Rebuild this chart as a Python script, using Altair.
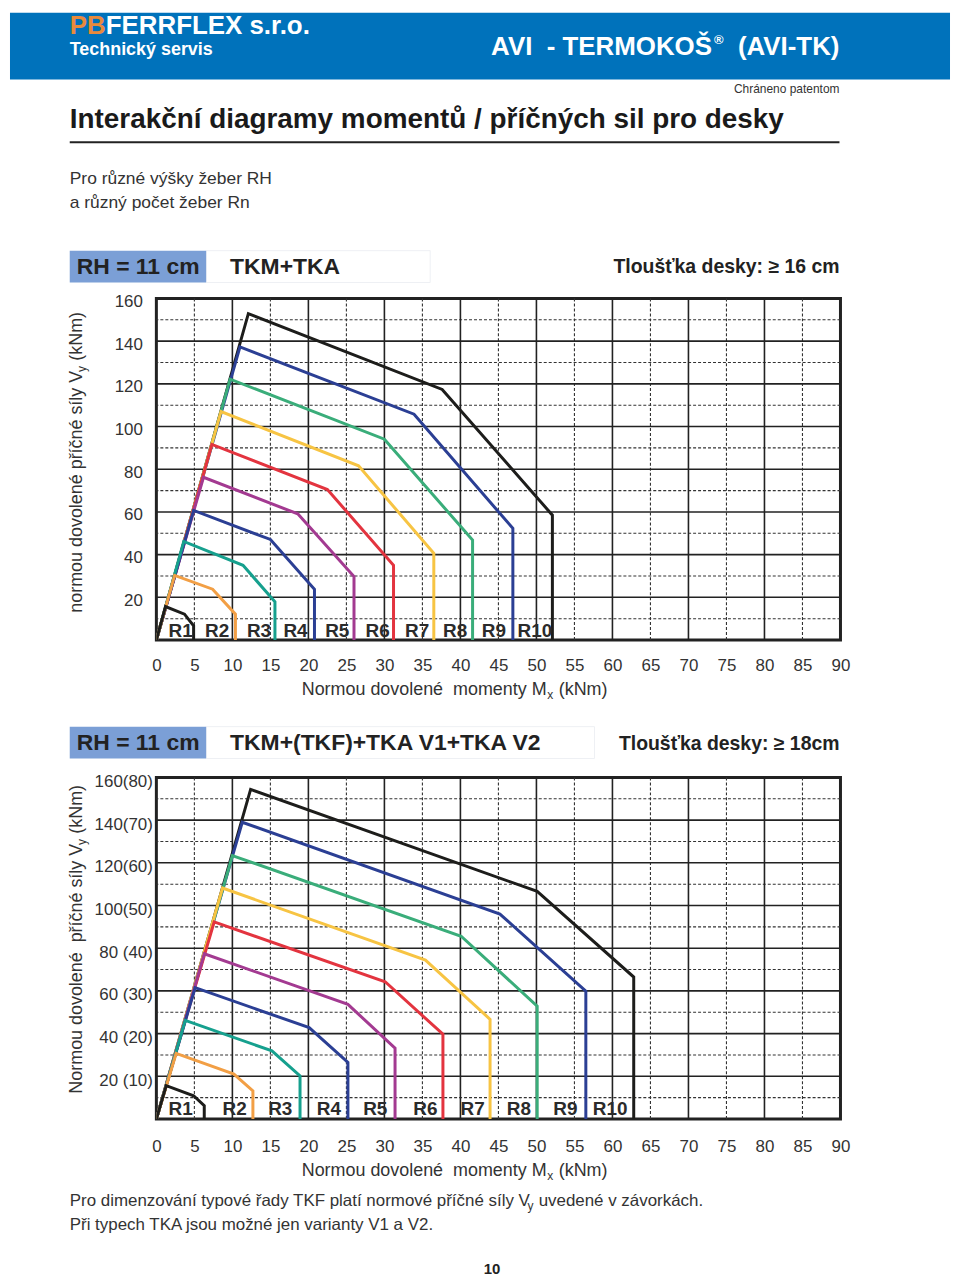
import unicodedata
import altair as alt
import pandas as pd

FONT = "Liberation Sans"

SERIES = ["R1", "R2", "R3", "R4", "R5", "R6", "R7", "R8", "R9", "R10"]
COLORS = ["#1d1d1b", "#f29f45", "#16a08e", "#2b3f94", "#a33a91",
          "#e3343f", "#f7c443", "#3aad7a", "#2b3f94", "#1d1d1b"]

X_TICKS = list(range(0, 95, 5))
X_MAJOR = [10, 20, 30, 40, 50, 60, 70, 80]
X_MINOR = [5, 15, 25, 35, 45, 55, 65, 75, 85]
Y_TICKS = [20, 40, 60, 80, 100, 120, 140, 160]
Y_MAJOR = [20, 40, 60, 80, 100, 120, 140]
Y_MINOR = [10, 30, 50, 70, 90, 110, 130, 150]
C1_YLABELS = ["20", "40", "60", "80", "100", "120", "140", "160"]
C2_YLABELS = ["20 (10)", "40 (20)", "60 (30)", "80 (40)", "100(50)", "120(60)", "140(70)", "160(80)"]

# Chart 1 (TKM+TKA): vertices Mx (kNm), Vy (kN) per ribs count R1..R10
C1_MX = [
    [0, 1.2, 3.7, 4.9, 4.9],
    [0, 2.4, 7.4, 10.4, 10.4],
    [0, 3.6, 11.4, 15.6, 15.6],
    [0, 4.9, 15.0, 20.8, 20.8],
    [0, 6.2, 18.6, 26.0, 26.0],
    [0, 7.3, 22.5, 31.2, 31.2],
    [0, 8.5, 26.6, 36.5, 36.5],
    [0, 9.7, 30.0, 41.6, 41.6],
    [0, 11.0, 33.9, 46.9, 46.9],
    [0, 12.1, 37.6, 52.1, 52.1],
]
C1_VY = [
    [0, 15.7, 12.1, 6.7, 0],
    [0, 30.3, 23.8, 12.1, 0],
    [0, 46.2, 35.0, 17.9, 0],
    [0, 60.7, 47.1, 23.8, 0],
    [0, 76.2, 59.1, 29.7, 0],
    [0, 91.6, 70.5, 35.0, 0],
    [0, 107.0, 81.6, 40.6, 0],
    [0, 122.2, 94.1, 46.8, 0],
    [0, 137.3, 105.8, 52.3, 0],
    [0, 152.9, 117.4, 58.5, 0],
]
C1_LABEL_X = [3.2, 8.0, 13.5, 18.3, 23.8, 29.1, 34.3, 39.3, 44.4, 49.8]
C1_LABEL_Y = 4.1

# Chart 2 (TKM+(TKF)+TKA V1+TKA V2)
C2_MX = [
    [0, 1.3, 4.9, 6.3, 6.3],
    [0, 2.6, 10.2, 12.7, 12.7],
    [0, 3.8, 15.2, 18.9, 18.9],
    [0, 5.1, 20.1, 25.2, 25.2],
    [0, 6.3, 25.2, 31.4, 31.4],
    [0, 7.6, 30.1, 37.7, 37.7],
    [0, 8.7, 35.4, 43.9, 43.9],
    [0, 10.0, 40.1, 50.1, 50.1],
    [0, 11.3, 45.2, 56.5, 56.5],
    [0, 12.4, 50.1, 62.8, 62.8],
]
C2_VY = [
    [0, 15.6, 10.9, 6.2, 0],
    [0, 30.7, 21.0, 13.2, 0],
    [0, 46.2, 31.9, 20.2, 0],
    [0, 61.5, 42.8, 26.5, 0],
    [0, 77.4, 53.7, 33.2, 0],
    [0, 92.3, 64.3, 39.7, 0],
    [0, 108.2, 74.4, 46.7, 0],
    [0, 123.4, 85.6, 52.9, 0],
    [0, 139.0, 96.0, 59.9, 0],
    [0, 154.4, 106.6, 66.5, 0],
]
C2_LABEL_X = [3.2, 10.3, 16.3, 22.7, 28.8, 35.4, 41.6, 47.7, 53.8, 59.7]
C2_LABEL_Y = 4.7

W, H = 687, 343
O1 = (155, 295)
O2 = (155, 776)
INK = "#2b2b2b"
NB = "\u00a0"

# Arial / Liberation Sans regular advance widths (1/1000 em)
AW = {" ": 278, NB: 278, "a": 556, "b": 556, "c": 500, "d": 556, "e": 556, "f": 278,
      "g": 556, "h": 556, "i": 222, "j": 222, "k": 500, "l": 222, "m": 833, "n": 556,
      "o": 556, "p": 556, "q": 556, "r": 333, "s": 500, "t": 278, "u": 556, "v": 500,
      "w": 722, "x": 500, "y": 500, "z": 500, "A": 667, "B": 667, "C": 722, "D": 722,
      "E": 667, "F": 611, "G": 778, "H": 722, "I": 278, "J": 500, "K": 667, "L": 556,
      "M": 833, "N": 722, "O": 778, "P": 667, "Q": 778, "R": 722, "S": 667, "T": 611,
      "U": 722, "V": 667, "W": 944, "X": 667, "Y": 667, "Z": 611, "(": 333, ")": 333,
      ".": 278, ",": 278, "-": 333, "/": 278}


def tw(s, size):
    tot = 0
    for ch in s:
        base = unicodedata.normalize("NFD", ch)[0] if ch != NB else ch
        tot += AW.get(base, 556)
    return tot * size / 1000.0


def one(s):
    return pd.DataFrame({"t": [s]})


def txt(s, px, py, o, size=17, bold=False, color=INK, align="left",
        baseline="middle", angle=0):
    kw = dict(font=FONT, fontSize=size, fontWeight="bold" if bold else "normal",
              color=color, align=align, baseline=baseline)
    if angle:
        kw["angle"] = angle
    return alt.Chart(one(s)).mark_text(**kw).encode(
        x=alt.value(px - o[0]), y=alt.value(py - o[1]), text="t:N")


def box(x1, y1, x2, y2, o, fill, stroke=None, sw=1):
    kw = dict(fill=fill)
    if stroke:
        kw.update(stroke=stroke, strokeWidth=sw)
    return alt.Chart(one("")).mark_rect(**kw).encode(
        x=alt.value(x1 - o[0]), x2=alt.value(x2 - o[0]),
        y=alt.value(y1 - o[1]), y2=alt.value(y2 - o[1]))


def hline(x1, x2, y, o, color=INK, sw=2):
    return alt.Chart(one("")).mark_rule(color=color, strokeWidth=sw).encode(
        x=alt.value(x1 - o[0]), x2=alt.value(x2 - o[0]), y=alt.value(y - o[1]))


def split_lead(c):
    stripped = c.lstrip(" ")
    return stripped, len(c) - len(stripped)


def sub_h(a, s, c, sx, cy, o, size=18, ssize=12, color="#333"):
    wa = tw(a, size)
    ws = tw(s, ssize)
    c2, nlead = split_lead(c)
    gap = nlead * tw(" ", size)
    return [
        txt(a, sx, cy, o, size=size, color=color),
        txt(s, sx + wa + 0.5, cy + 5, o, size=ssize, color=color),
        txt(c2, sx + wa + ws + 1 + gap, cy, o, size=size, color=color),
    ]


def sub_h_center(a, s, c, cx, cy, o, size=18, ssize=12, color="#333"):
    total = tw(a, size) + tw(s, ssize) + tw(c, size)
    return sub_h(a, s, c, cx - total / 2, cy, o, size, ssize, color)


def sub_v_center(a, s, c, cx, cy, o, size=18, ssize=12, color="#333"):
    wa = tw(a, size)
    ws = tw(s, ssize)
    c2, nlead = split_lead(c)
    gap = nlead * tw(" ", size)
    total = wa + ws + tw(c, size)
    sy = cy + total / 2
    return [
        txt(a, cx, sy, o, size=size, color=color, angle=270),
        txt(s, cx + 5, sy - wa - 0.5, o, size=ssize, color=color, angle=270),
        txt(c2, cx, sy - wa - ws - 1 - gap, o, size=size, color=color, angle=270),
    ]


xscale = alt.Scale(domain=[0, 90], nice=False, zero=False)
yscale = alt.Scale(domain=[0, 160], nice=False, zero=False)


def build(mx, vy, lab_x, lab_y, ylabels, xpad, ypad, yoff, deco):
    xa = alt.Axis(values=X_TICKS, title=None, ticks=False, tickSize=0, domain=False,
                  grid=False, labelFont=FONT, labelFontSize=17, labelColor="#333",
                  labelPadding=xpad, labelFlush=False, labelOverlap=False, labelBound=False)
    expr = "[" + ",".join("'%s'" % l for l in ylabels) + "][round(datum.value/20)-1]"
    ya = alt.Axis(values=Y_TICKS, title=None, ticks=False, tickSize=0, domain=False,
                  grid=False, labelFont=FONT, labelFontSize=17, labelColor="#333",
                  labelPadding=ypad, labelOffset=yoff, labelExpr=expr,
                  labelFlush=False, labelOverlap=False, labelBound=False)

    def X(f):
        return alt.X(f, type="quantitative", scale=xscale, axis=xa)

    def Y(f):
        return alt.Y(f, type="quantitative", scale=yscale, axis=ya)

    layers = [
        alt.Chart(pd.DataFrame({"v": X_MINOR})).mark_rule(
            color="#333", strokeWidth=1.1, strokeDash=[3, 2]).encode(x=X("v")),
        alt.Chart(pd.DataFrame({"v": Y_MINOR})).mark_rule(
            color="#333", strokeWidth=1.1, strokeDash=[3, 2]).encode(y=Y("v")),
        alt.Chart(pd.DataFrame({"v": X_MAJOR})).mark_rule(
            color="#222", strokeWidth=1.6).encode(x=X("v")),
        alt.Chart(pd.DataFrame({"v": Y_MAJOR})).mark_rule(
            color="#222", strokeWidth=1.6).encode(y=Y("v")),
    ]
    for i in reversed(range(len(SERIES))):
        df = pd.DataFrame({"mx": mx[i], "vy": vy[i], "o": list(range(len(mx[i])))})
        layers.append(alt.Chart(df).mark_line(
            color=COLORS[i], strokeWidth=3, strokeCap="butt", strokeJoin="miter",
            clip=True).encode(x=X("mx"), y=Y("vy"), order="o:Q"))
    ldf = pd.DataFrame({"mx": lab_x, "vy": [lab_y] * len(lab_x), "t": SERIES})
    layers.append(alt.Chart(ldf).mark_text(
        font=FONT, fontSize=19, fontWeight="bold", color=INK, baseline="middle").encode(
        x=X("mx"), y=Y("vy"), text="t:N"))
    return alt.layer(*layers, *deco).properties(width=W, height=H)


BLUE = "#0072bb"
RHBOX = "#7b9fd6"
PB_SIZE = 26
PB_W = (667 + 722) * PB_SIZE / 1000.0  # bold "PB" advance width

deco1 = [
    box(8, 8, 952, 75, O1, BLUE),
    txt("PB", 68, 8, O1, size=PB_SIZE, bold=True, color="#e98a3c", baseline="top"),
    txt("FERRFLEX s.r.o.", 68 + PB_W, 8, O1, size=PB_SIZE, bold=True, color="white", baseline="top"),
    txt("Technický servis", 68, 45, O1, size=18, bold=True, color="white"),
    txt("AVI" + NB + " - TERMOKOŠ", 713, 42, O1, size=26, bold=True, color="white", align="right"),
    txt("®", 715, 35, O1, size=13, bold=True, color="white"),
    txt("(AVI-TK)", 841, 42, O1, size=26, bold=True, color="white", align="right"),
    txt("Chráneno patentom", 841, 85, O1, size=12, color="#333", align="right"),
    txt("Interakční diagramy momentů / příčných sil pro desky", 68, 116, O1,
        size=28, bold=True, color="#1a1a1a"),
    hline(68, 841, 138, O1, color="#222", sw=2),
    txt("Pro různé výšky žeber RH", 68, 175, O1, size=17.5, color="#333"),
    txt("a různý počet žeber Rn", 68, 199, O1, size=17.5, color="#333"),
    box(205, 247, 430, 279, O1, "white", stroke="#eef0f4"),
    box(68, 247, 205, 279, O1, RHBOX),
    txt("RH = 11 cm", 75, 263, O1, size=23, bold=True, color="#222"),
    txt("TKM+TKA", 229, 263, O1, size=23, bold=True, color="#222"),
    txt("Tloušťka desky: ≥ 16 cm", 841, 263, O1, size=19.5, bold=True, color="#222", align="right"),
]
deco1 += sub_v_center("normou dovolené příčné síly V", "y", " (kNm)", 75, 460, O1)
deco1 += sub_h_center("Normou dovolené" + NB + " momenty M", "x", " (kNm)", 454, 688, O1)

deco2 = [
    box(205, 725, 595, 757, O2, "white", stroke="#eef0f4"),
    box(68, 725, 205, 757, O2, RHBOX),
    txt("RH = 11 cm", 75, 741, O2, size=23, bold=True, color="#222"),
    txt("TKM+(TKF)+TKA V1+TKA V2", 229, 741, O2, size=23, bold=True, color="#222"),
    txt("Tloušťka desky: ≥ 18cm", 841, 742, O2, size=19.5, bold=True, color="#222", align="right"),
    txt("Při typech TKA jsou možné jen varianty V1 a V2.", 68, 1225, O2, size=17, color="#333"),
    txt("10", 492, 1270, O2, size=15, bold=True, color="#222", align="center"),
]
deco2 += sub_v_center("Normou dovolené" + NB + " příčné síly V", "y", " (kNm)", 75, 939, O2)
deco2 += sub_h_center("Normou dovolené" + NB + " momenty M", "x", " (kNm)", 454, 1171, O2)
deco2 += sub_h("Pro dimenzování typové řady TKF platí normové příčné síly V", "y",
               " uvedené v závorkách.", 68, 1201, O2, size=17)

c1 = build(C1_MX, C1_VY, C1_LABEL_X, C1_LABEL_Y, C1_YLABELS, 18, 14, 3, deco1)
c2 = build(C2_MX, C2_VY, C2_LABEL_X, C2_LABEL_Y, C2_YLABELS, 20, 4, 4, deco2)

chart = alt.vconcat(c1, c2, spacing=138, bounds="flush", padding=0).configure(
    background="white").configure_view(stroke="#222", strokeWidth=3)

chart.save("out.html", embed_options={"renderer": "svg", "actions": False})
